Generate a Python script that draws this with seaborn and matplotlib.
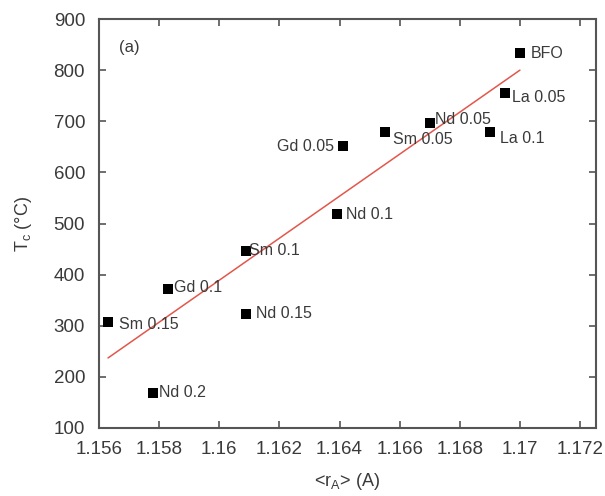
import matplotlib
matplotlib.use("Agg")
import matplotlib.pyplot as plt
import seaborn as sns
import pandas as pd

# ---- data ----
labels = ["BFO", "La 0.05", "Nd 0.05", "La 0.1", "Sm 0.05", "Gd 0.05",
          "Nd 0.1", "Sm 0.1", "Gd 0.1", "Sm 0.15", "Nd 0.15", "Nd 0.2"]
r_a = [1.1700, 1.1695, 1.1670, 1.1690, 1.1655, 1.1641,
       1.1639, 1.1609, 1.1583, 1.1563, 1.1609, 1.1578]
tc = [833, 755, 696, 678, 678, 651, 518, 447, 372, 308, 323, 169]
fit_x = [1.1563, 1.1700]
fit_y = [237, 800]
x_ticks = [1.156, 1.158, 1.16, 1.162, 1.164, 1.166, 1.168, 1.17, 1.172]
x_ticklabels = ["1.156", "1.158", "1.16", "1.162", "1.164", "1.166", "1.168", "1.17", "1.172"]
y_ticks = [100, 200, 300, 400, 500, 600, 700, 800, 900]

# label offsets (points) and alignment -- styling
offsets = {
    "BFO": (8, 0, "left"), "La 0.05": (5, -3, "left"), "Nd 0.05": (4, 3, "left"),
    "La 0.1": (7, -4, "left"), "Sm 0.05": (6, -5, "left"), "Gd 0.05": (-6, 0, "right"),
    "Nd 0.1": (7, 0, "left"), "Sm 0.1": (2, 0, "left"), "Gd 0.1": (4, 1, "left"),
    "Sm 0.15": (8, -2, "left"), "Nd 0.15": (7, 0, "left"), "Nd 0.2": (4, 0, "left"),
}

sns.set_theme(style="ticks")
plt.rcParams['font.family'] = ['Liberation Sans', 'DejaVu Sans']
txt = "#3a3a3a"

fig = plt.figure(figsize=(6.05, 4.96), dpi=100)
ax = fig.add_axes([99 / 605, 68 / 496, 497 / 605, 409 / 496])

df = pd.DataFrame({"r": r_a, "tc": tc, "label": labels})
fit = pd.DataFrame({"r": fit_x, "tc": fit_y})

sns.lineplot(data=fit, x="r", y="tc", ax=ax, color="#e2574c", linewidth=1.1)
sns.scatterplot(data=df, x="r", y="tc", ax=ax, marker="s", s=55,
                color="black", edgecolor="black", linewidth=0, zorder=3)

for lab, x, y in zip(labels, r_a, tc):
    dx, dy, ha = offsets[lab]
    ax.annotate(lab, (x, y), xytext=(dx, dy), textcoords="offset points",
                ha=ha, va="center", fontsize=11.5, color=txt)

ax.text(0.04, 0.93, "(a)", transform=ax.transAxes, fontsize=12, color=txt,
        ha="left", va="center")

ax.set_xlim(1.156, 1.17253)
ax.set_ylim(100, 900)
ax.set_xticks(x_ticks)
ax.set_xticklabels(x_ticklabels)
ax.set_yticks(y_ticks)
ax.tick_params(direction="in", length=5, width=1.2, colors="#555555",
               labelcolor=txt, labelsize=13.5, top=True, right=True)
ax.tick_params(axis="y", pad=10)
ax.tick_params(axis="x", pad=9)
for s in ax.spines.values():
    s.set_visible(True)
    s.set_color("#555555")
    s.set_linewidth(1.5)

ax.set_xlabel(r"<r$_{\mathregular{A}}$> (A)", fontsize=13, color=txt, labelpad=10)
ax.set_ylabel(r"T$_{\mathregular{c}}$ (°C)", fontsize=13, color=txt, labelpad=14)

fig.savefig("out.png", dpi=100)
